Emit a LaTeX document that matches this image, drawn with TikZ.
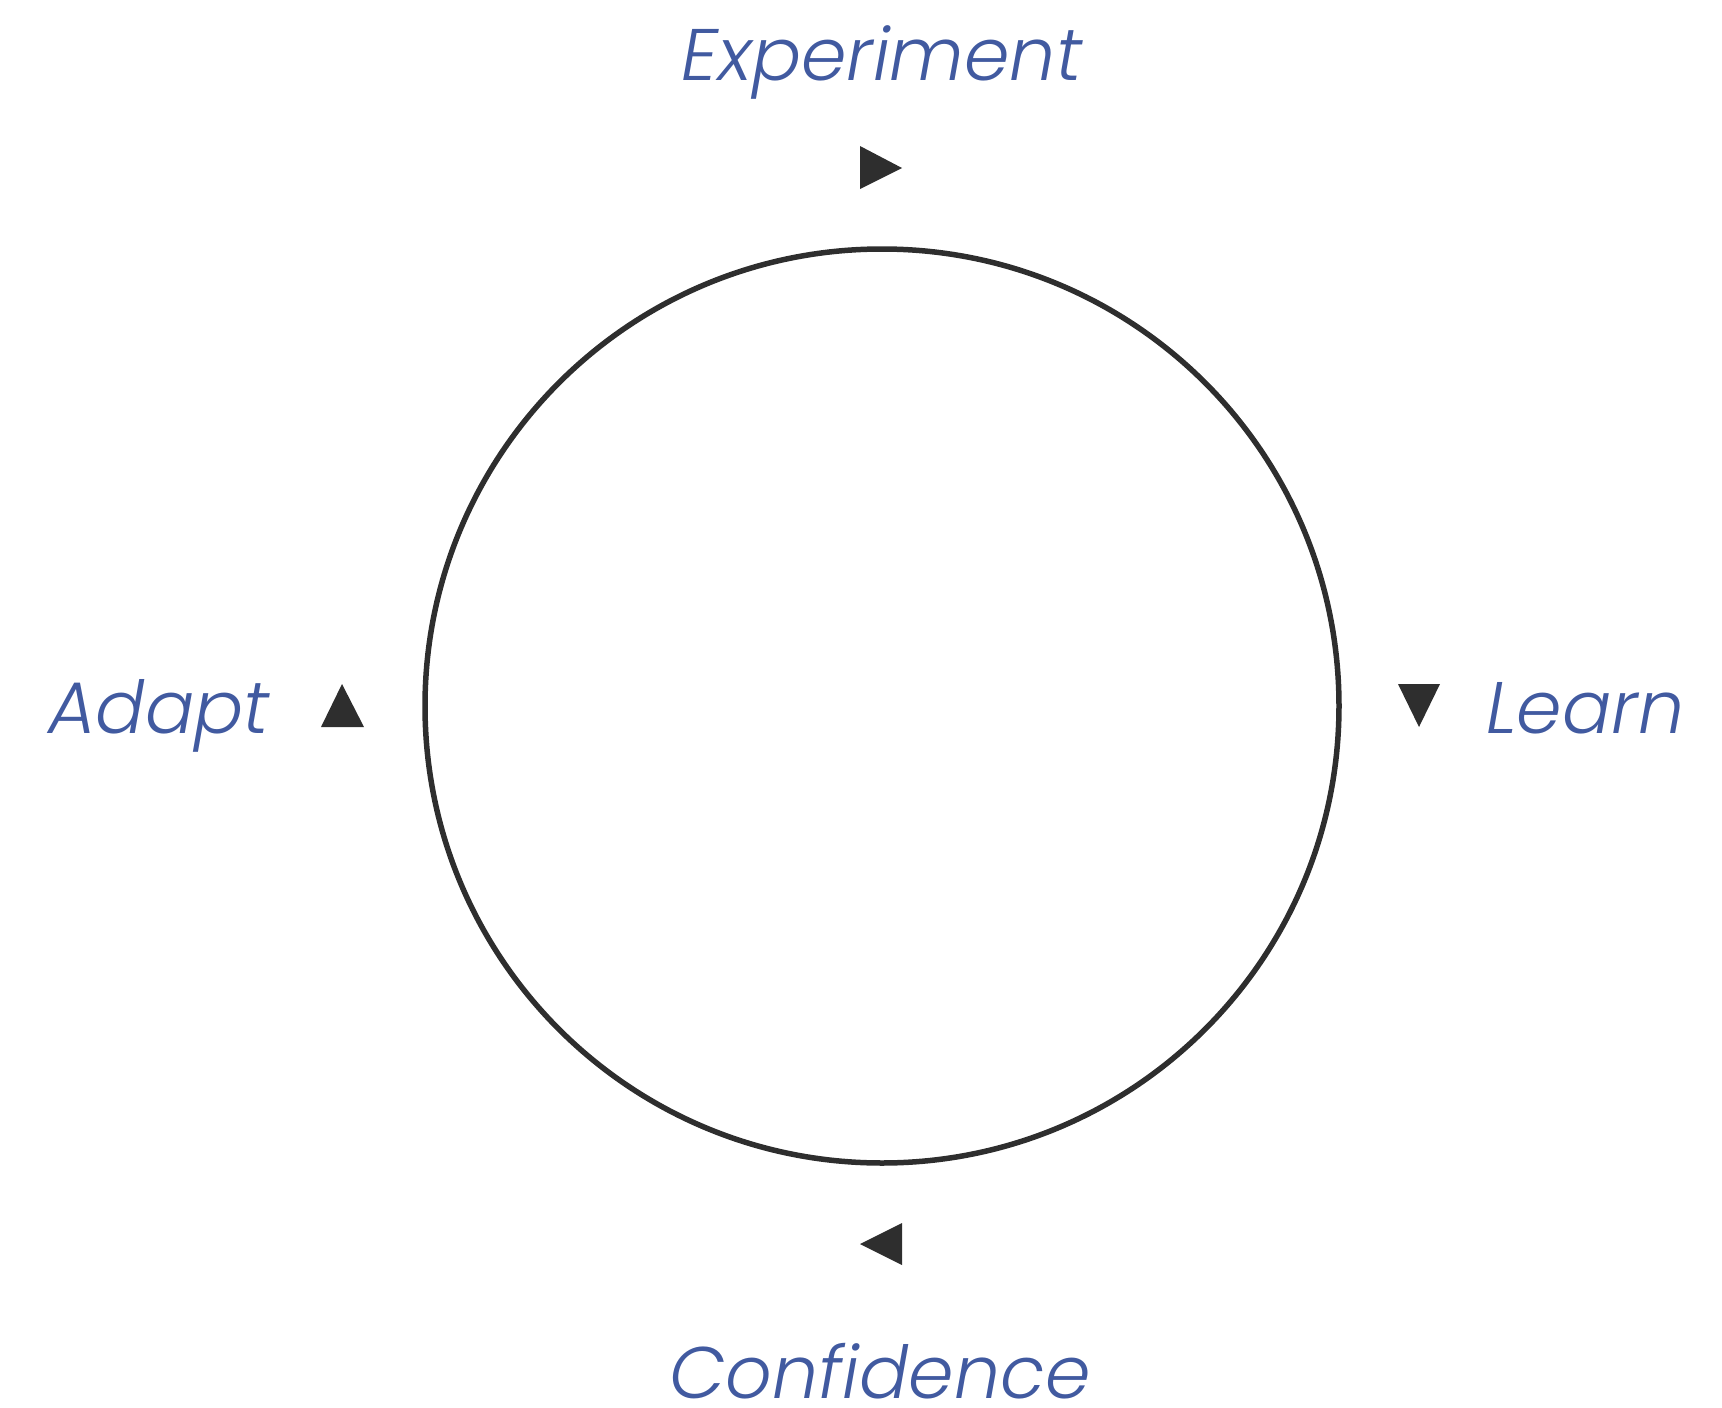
\documentclass[tikz,border=0pt]{standalone}
\usepackage{fontspec}
\newfontfamily\labfont{Poppins Light Italic}
\definecolor{labblue}{RGB}{65,90,160}
\definecolor{inkdark}{RGB}{46,46,46}
\begin{document}
\begin{tikzpicture}[x=1pt,y=-1pt,
  lab/.style={font=\labfont\fontsize{73}{78}\selectfont, text=labblue, inner sep=0pt},
  tri/.style={fill=inkdark, draw=none}]
\useasboundingbox (0,0) rectangle (1722,1408);
\node[draw=inkdark, line width=5.5pt, circle, minimum size=914pt, inner sep=0pt] (cycle) at (882,706) {};
\node[lab, anchor=base] (exp) at (882,80) {Experiment};
\node[lab, anchor=base west] (learn) at (1486,733) {Learn};
\node[lab, anchor=base] (conf) at (880,1398) {Confidence};
\node[lab, anchor=base east] (adapt) at (270,733) {Adapt};
\fill[tri] (860,146) -- (902,168) -- (860,189) -- cycle;
\fill[tri] (1398,684) -- (1440,684) -- (1419,727) -- cycle;
\fill[tri] (902,1223) -- (902,1265) -- (860,1244) -- cycle;
\fill[tri] (321,727) -- (364,727) -- (342,684) -- cycle;
\end{tikzpicture}
\end{document}
